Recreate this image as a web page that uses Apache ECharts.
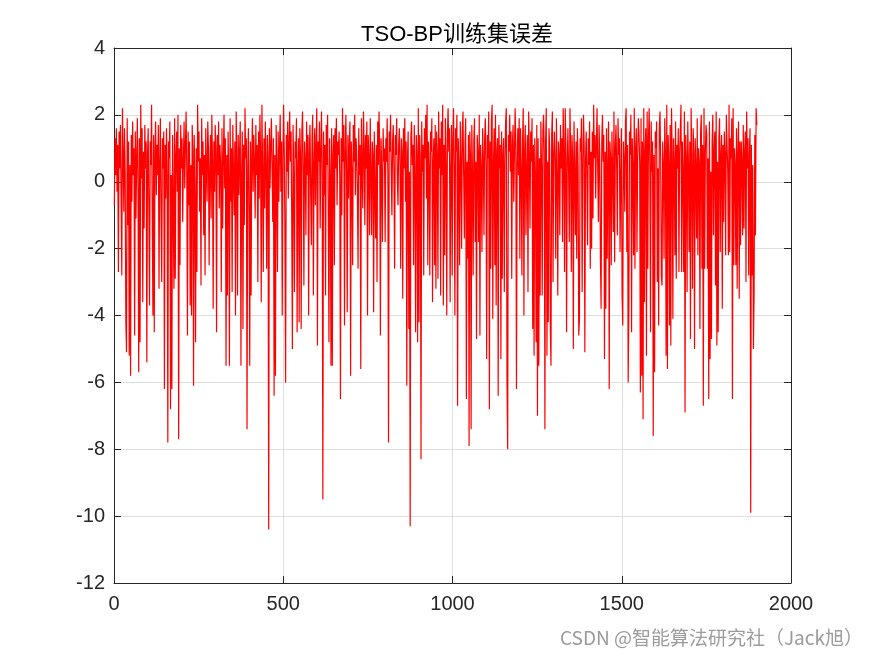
<!DOCTYPE html>
<html>
<head>
<meta charset="utf-8">
<script src="https://cdn.jsdelivr.net/npm/echarts@6/dist/echarts.min.js"></script>
<style>html,body{margin:0;padding:0;background:#fff;}#c{width:875px;height:656px;}</style>
</head>
<body>
<div id="c"></div>
<script>
// Training-set error values, sample index step 2 (x = 1, 3, 5, ...)
var xStart = 1;
var xStep = 2;
var errorValues = [
-0.7,1.3,0.2,1.6,-0.3,1.1,-2.7,1.5,0.4,1.7,-0.5,-2.8,2.2,0.8,-0.9,1.6,0.3,-4.2,-5.1,1.9,-1.3,1.2,-5.2,0.5,-5.8,
1.4,-0.6,1.8,0.2,1.0,-4.6,1.5,-1.1,0.7,1.9,-0.2,-5.7,1.3,-4.8,2.3,0.1,1.6,-3.6,0.9,-1.4,1.7,0.4,1.2,-5.4,0.8,
1.6,-0.8,-3.7,1.2,0.5,2.3,-1.0,-4.0,1.4,-4.5,0.9,1.8,-0.4,1.1,0.2,1.7,-3.2,0.6,1.9,-0.9,-3.0,1.3,0.4,1.5,-6.2,
1.1,-0.5,1.6,0.3,-7.8,1.2,0.7,1.8,-6.8,0.2,-6.2,1.4,-0.6,-3.2,1.9,-2.9,0.8,1.5,-0.3,2.0,-7.7,1.0,-2.5,1.7,0.4,
1.3,-1.2,0.6,1.8,-0.2,1.1,2.1,0.3,-4.6,1.5,-0.7,1.2,-3.7,0.5,-4.0,1.7,0.9,-6.1,1.4,-0.4,-4.8,1.0,-2.7,2.3,0.6,
1.5,-0.9,0.7,-3.1,1.9,0.2,1.2,-1.6,0.8,-2.8,1.6,0.4,-0.6,1.8,1.0,-2.5,0.3,1.4,-1.1,2.0,0.6,-3.8,1.2,-0.3,1.7,
0.9,-4.5,1.4,0.2,1.8,-0.8,1.1,0.5,-3.3,1.6,-1.4,0.7,2.0,-0.2,1.3,-5.5,0.8,-3.4,1.5,0.1,-5.5,1.9,-0.6,1.0,-3.3,
1.7,0.3,-1.0,1.2,-4.0,2.1,0.6,-3.4,1.4,-0.4,0.9,1.8,-5.5,0.2,1.5,-4.4,1.1,-1.3,2.2,0.7,1.3,-7.4,0.4,1.6,-0.9,
-5.5,1.2,-3.4,0.8,1.9,-0.3,1.4,0.6,-1.1,1.7,0.2,1.1,-3.0,1.5,-0.5,2.0,0.9,-3.6,2.3,0.4,-2.7,1.3,-0.8,1.8,0.5,
-2.6,1.4,0.7,-10.4,1.6,-0.2,1.1,1.9,0.4,-1.2,1.3,-6.4,0.8,-5.8,1.7,0.3,-2.7,1.5,-0.6,1.0,2.0,-0.3,1.2,-4.0,0.6,
2.3,0.9,-1.6,-6.0,1.4,0.3,1.8,-0.5,1.1,2.1,0.6,1.5,-1.0,-5.0,1.7,0.2,-3.3,1.2,0.7,1.9,-4.5,0.4,1.3,-4.2,1.6,
0.8,-4.4,1.5,2.1,0.4,-3.1,1.2,0.6,-1.6,1.8,0.2,1.4,-4.0,0.9,1.7,-0.3,-1.9,1.3,2.0,-3.4,0.5,1.6,-0.7,1.1,2.2,
-4.9,1.2,0.6,1.8,-1.4,0.9,2.1,0.3,-9.5,1.5,-0.4,1.1,-3.4,1.7,0.5,2.0,-0.9,-4.8,1.3,0.2,-5.5,1.6,-5.5,0.8,1.4,
-2.5,1.6,0.4,1.9,-0.7,1.2,0.8,1.5,0.1,-6.5,1.3,-1.0,2.2,0.6,1.7,-4.3,0.9,2.0,0.3,-3.9,1.4,-0.5,1.1,1.8,-5.8,
1.2,0.3,-2.5,1.7,0.6,2.0,-0.4,1.3,0.9,-0.3,-2.6,1.6,0.2,1.1,-5.6,1.9,0.5,-0.8,2.1,1.0,-1.3,1.4,0.4,1.8,-4.0,
1.4,0.7,-1.6,1.9,0.3,-1.6,1.2,0.8,-3.9,1.5,-0.2,-1.7,1.1,-3.0,1.8,0.5,2.1,0.9,-4.6,1.3,0.2,-1.8,1.6,0.6,1.0,
-1.8,1.3,0.6,1.9,0.2,-7.8,1.5,0.9,2.0,0.4,-1.0,1.2,1.7,0.3,-2.6,1.4,0.8,1.9,0.1,-0.7,1.1,1.6,0.5,-2.6,1.3,
0.9,-3.5,1.6,0.4,1.9,-0.6,1.2,-6.1,0.7,1.5,-4.4,0.3,-10.3,1.3,1.8,0.5,1.1,-2.5,1.7,0.2,-4.5,1.4,0.8,-4.8,2.2,
-4.2,1.4,0.6,-8.3,1.8,0.3,1.1,-2.8,1.6,0.7,2.0,-0.5,2.3,-2.5,1.2,0.4,-2.8,1.5,0.9,1.9,-3.6,0.6,1.3,-2.5,1.7,
-3.2,1.5,0.8,-2.9,2.1,0.4,1.3,-3.4,1.8,0.2,2.3,-3.7,1.1,-2.2,1.9,0.6,-4.0,1.4,2.2,0.9,1.6,-3.6,0.3,1.7,-2.8,
1.2,2.2,0.5,-4.0,1.6,0.9,2.0,-6.7,1.3,0.4,-2.5,1.8,0.7,-2.0,1.5,2.1,0.2,-1.7,1.1,1.9,-6.5,0.6,-2.3,1.4,-7.9,
1.5,0.8,-7.4,1.7,0.3,-2.8,1.2,1.9,-1.8,0.6,-4.7,1.4,0.9,-1.8,2.0,-4.6,1.1,0.4,-2.1,1.6,0.7,-1.6,1.3,1.9,0.5,
-5.3,1.4,0.7,2.1,-6.8,1.2,-2.6,1.8,2.3,-4.1,0.5,1.6,-2.5,2.0,-3.7,0.9,1.3,-6.4,1.7,0.4,1.1,-5.3,1.5,-2.9,0.8,
1.3,-3.3,0.6,1.8,2.2,-6.0,-8.0,1.4,0.9,2.0,0.3,1.5,-2.9,1.1,1.7,-0.6,0.8,2.2,1.2,-6.2,0.5,1.6,0.2,1.9,-2.3,
1.6,0.4,-2.8,1.2,2.2,-4.0,0.9,1.7,-1.6,0.3,1.4,-3.3,2.1,0.8,-1.4,1.5,0.6,1.9,-4.4,1.1,-5.2,1.3,0.2,-4.8,1.7,
-7.0,1.3,-5.5,0.7,-3.4,1.8,0.4,-3.4,1.5,2.0,0.9,-7.4,1.2,2.2,-5.2,0.6,-4.2,1.6,1.0,-4.4,-5.5,1.4,2.1,-3.0,0.8,
1.5,0.6,-2.3,1.9,0.2,-3.4,1.2,0.8,-1.6,1.7,0.4,1.3,-1.8,2.2,0.9,-2.7,2.2,1.1,-4.5,0.5,1.6,0.3,-1.8,2.2,1.0,
-2.7,1.4,0.7,-5.0,1.8,0.3,-1.6,1.2,-2.3,1.6,0.5,-4.6,-4.1,1.3,0.9,1.9,-3.3,0.4,2.0,1.1,-5.1,0.6,1.5,0.2,-1.9,
1.3,0.5,1.8,-2.6,0.9,-2.0,1.5,-1.1,2.3,0.7,1.4,-0.5,1.1,2.2,0.4,-1.2,1.7,0.8,-2.3,-3.8,1.2,2.0,0.6,1.4,-5.3,
0.9,-3.8,1.6,-2.3,0.4,1.8,-6.2,1.2,0.7,-2.5,1.5,0.3,-1.5,2.1,-2.4,1.0,1.7,0.5,-1.6,1.9,0.8,1.3,-2.1,0.2,1.6,
-3.4,-4.3,1.2,0.6,-0.9,1.8,2.2,-2.1,1.1,-6.0,-3.7,1.5,0.8,2.0,-4.5,1.3,0.4,-2.2,2.2,-2.6,1.0,1.6,-2.1,0.7,1.9,
1.4,0.6,-6.3,1.9,-5.8,1.2,-7.1,2.2,-3.6,0.9,1.6,-5.2,2.1,-2.6,1.3,2.2,0.5,-4.5,1.8,0.3,1.2,-7.6,0.8,-5.7,1.5,
1.0,1.8,-3.0,0.4,-4.3,1.6,2.1,0.7,-2.8,-3.1,1.2,0.5,-2.3,1.9,0.9,-5.2,2.3,-5.6,1.4,0.6,-4.3,1.7,-4.9,2.2,0.8,
-4.1,1.3,0.6,-2.2,1.8,-2.9,1.1,0.4,1.6,-2.7,0.9,1.5,2.3,-2.7,1.2,0.3,-2.7,2.1,-6.9,1.4,0.7,-3.3,1.8,0.5,-2.1,
1.2,-4.7,2.2,0.5,-3.2,1.6,0.8,-5.0,1.3,0.4,-1.7,1.9,-2.2,1.0,0.6,-4.4,1.5,2.0,-2.6,1.1,-6.7,2.2,-2.6,0.9,1.7,
1.4,-2.6,0.7,-6.5,1.8,-5.3,0.3,-4.7,1.2,2.0,-1.6,0.9,1.5,-3.1,2.1,-4.9,0.6,-4.5,1.3,1.9,-2.1,0.8,1.4,-3.8,1.1,
-1.2,1.5,0.8,-2.2,2.0,1.1,0.4,-2.2,2.3,-2.1,1.3,0.7,1.9,-6.5,2.2,-2.5,1.0,0.5,-2.5,1.6,-3.2,0.9,1.8,-3.5,1.2,
-1.9,1.2,0.6,-1.6,1.7,-1.4,0.9,1.5,-3.0,2.1,0.4,1.3,-2.8,0.8,1.6,-9.9,1.1,-2.8,0.5,-5.0,-3.3,1.4,-1.6,2.2,1.7
];
var titleText = 'TSO-BP训练集误差';
var watermarkText = 'CSDN @智能算法研究社（Jack旭）';
var xTicks = {min: 0, max: 2000, interval: 500};
var yTicks = {min: -12, max: 4, interval: 2};

var seriesData = errorValues.map(function (v, i) { return [xStart + i * xStep, v]; });

var axisColor = '#262626';
var fontFam = '"Liberation Sans", Arial, "Noto Sans CJK SC", sans-serif';
var chart = echarts.init(document.getElementById('c'), null, {renderer: 'canvas'});
function axisBase(showLabel, extra) {
  var o = {
    axisLine: {show: true, onZero: false, lineStyle: {color: axisColor, width: 1}},
    axisTick: {show: true, inside: true, length: 7, lineStyle: {color: axisColor}},
    axisLabel: {show: showLabel},
    splitLine: {show: false}
  };
  for (var k in extra) o[k] = extra[k];
  return o;
}
chart.setOption({
  animation: false,
  backgroundColor: '#fff',
  title: {
    text: titleText, left: 452, top: 19, textAlign: 'center',
    textStyle: {fontSize: 22, fontWeight: 'normal', color: '#000', fontFamily: fontFam}
  },
  grid: {left: 114, right: 84, top: 48, bottom: 73, containLabel: false},
  xAxis: [
    axisBase(true, {type: 'value', position: 'bottom', min: xTicks.min, max: xTicks.max, interval: xTicks.interval,
      axisLabel: {show: true, color: axisColor, fontSize: 20, fontFamily: fontFam, margin: 11,
        formatter: function (v) { return String(v); }},
      splitLine: {show: true, lineStyle: {color: '#dedede', width: 1}}}),
    axisBase(false, {type: 'value', position: 'top', min: xTicks.min, max: xTicks.max, interval: xTicks.interval})
  ],
  yAxis: [
    axisBase(true, {type: 'value', position: 'left', min: yTicks.min, max: yTicks.max, interval: yTicks.interval,
      axisLabel: {show: true, color: axisColor, fontSize: 20, fontFamily: fontFam, margin: 9,
        formatter: function (v) { return String(v); }},
      splitLine: {show: true, lineStyle: {color: '#dedede', width: 1}}}),
    axisBase(false, {type: 'value', position: 'right', min: yTicks.min, max: yTicks.max, interval: yTicks.interval})
  ],
  series: [{
    type: 'line', data: seriesData, xAxisIndex: 0, yAxisIndex: 0,
    showSymbol: false, symbol: 'none', sampling: null,
    lineStyle: {color: '#ff0000', width: 1.2}, z: 1
  }],
  graphic: [{
    type: 'text', right: 12, bottom: 9, z: 100,
    style: {text: watermarkText, fill: '#9b9b9b', font: '19px "Noto Sans CJK SC", sans-serif'}
  }]
});
</script>
</body>
</html>
